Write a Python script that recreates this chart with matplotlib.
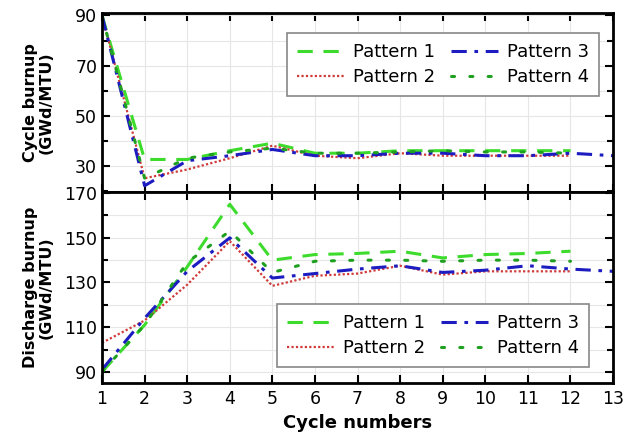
import matplotlib.pyplot as plt
from matplotlib.ticker import MultipleLocator

# cycle numbers
cyc12 = [1, 2, 3, 4, 5, 6, 7, 8, 9, 10, 11, 12]
cyc13 = [1, 2, 3, 4, 5, 6, 7, 8, 9, 10, 11, 12, 13]

# cycle burnup (GWd/MTU)
cb_p1 = [90, 32.5, 32.5, 36, 39, 35, 35, 36, 36, 36, 36, 36]
cb_p2 = [90, 25, 28.5, 33, 38, 34, 33, 35, 34, 34, 34, 34]
cb_p3 = [90, 22, 32, 34, 36.5, 34, 34, 35, 35, 34, 34, 35, 34]
cb_p4 = [90, 25, 33, 35.5, 37, 35, 35, 35.5, 36, 35.5, 35.5, 35]

# discharge burnup (GWd/MTU)
db_p1 = [90, 111, 137, 165, 140, 142.5, 143, 144, 141, 142.5, 143, 144]
db_p2 = [103, 113, 129, 148.5, 128.5, 133, 134, 137.5, 133.5, 135, 135, 135]
db_p3 = [91, 114, 135, 150, 132, 134, 136, 137.5, 134.5, 135.5, 137.5, 136, 135]
db_p4 = [90, 111, 139, 153, 134.5, 139.5, 140, 140, 139.5, 140, 140, 139.5]

labels = ['Pattern 1', 'Pattern 2', 'Pattern 3', 'Pattern 4']
styles = [
    dict(color='#3ddc2c', ls=(0, (5, 3.5)), lw=2.2),
    dict(color='#d03a3a', ls=(0, (1, 1)), lw=1.6),
    dict(color='#1c1cc0', ls=(0, (5, 2.5, 1.2, 2.5)), lw=2.2),
    dict(color='#20a020', ls=(0, (1, 5)), lw=2.2, dash_capstyle='round'),
]

plt.rcParams['font.family'] = 'DejaVu Sans'
fig = plt.figure(figsize=(6.24, 4.4), dpi=100)
ax1 = fig.add_axes([0.1635, 0.5636, 0.8190, 0.4069])
ax2 = fig.add_axes([0.1635, 0.1295, 0.8190, 0.4341])

top_data = [(cyc12, cb_p1), (cyc12, cb_p2), (cyc13, cb_p3), (cyc12, cb_p4)]
bot_data = [(cyc12, db_p1), (cyc12, db_p2), (cyc13, db_p3), (cyc12, db_p4)]

for (x, y), lab, st in zip(top_data, labels, styles):
    ax1.plot(x, y, label=lab, **st)
for (x, y), lab, st in zip(bot_data, labels, styles):
    ax2.plot(x, y, label=lab, **st)

ax1.set_ylim(19.5, 91)
ax1.yaxis.set_minor_locator(MultipleLocator(10))
ax1.set_yticks([30, 50, 70, 90])
ax2.set_ylim(85, 170.5)
ax2.set_yticks([90, 110, 130, 150, 170])
ax2.yaxis.set_minor_locator(MultipleLocator(10))

for ax in (ax1, ax2):
    ax.set_xlim(1, 13)
    ax.set_xticks(range(1, 14))
    ax.grid(True, which='both', color='#e6e6e6', lw=0.8)
    ax.tick_params(which='both', direction='in', top=True, right=True,
                   labelsize=12.5, width=1.5)
    ax.tick_params(which='major', length=6)
    ax.tick_params(which='minor', length=4)
    for s in ax.spines.values():
        s.set_linewidth(2)
ax1.tick_params(labelbottom=False)
ax2.tick_params(axis='x', pad=5)

ax1.set_ylabel('Cycle burnup\n(GWd/MTU)', fontsize=11.5, fontweight='bold',
               linespacing=1.05)
ax2.set_ylabel('Discharge burnup\n(GWd/MTU)', fontsize=11.5, fontweight='bold',
               linespacing=1.05)
ax1.yaxis.set_label_coords(-0.095, 0.5)
ax2.yaxis.set_label_coords(-0.095, 0.5)
ax2.set_xlabel('Cycle numbers', fontsize=13, fontweight='bold', labelpad=4)

leg_kw = dict(ncol=2, fontsize=13, fancybox=False, edgecolor='#888888',
              framealpha=1, handlelength=2.6, columnspacing=0.9,
              handletextpad=0.5, borderpad=0.55, labelspacing=0.4,
              borderaxespad=0)
l1 = ax1.legend(loc='upper right', bbox_to_anchor=(0.973, 0.888), **leg_kw)
l2 = ax2.legend(loc='lower right', bbox_to_anchor=(0.953, 0.084), **leg_kw)
for lg in (l1, l2):
    lg.get_frame().set_linewidth(1.2)

fig.savefig('out.png', dpi=100)
